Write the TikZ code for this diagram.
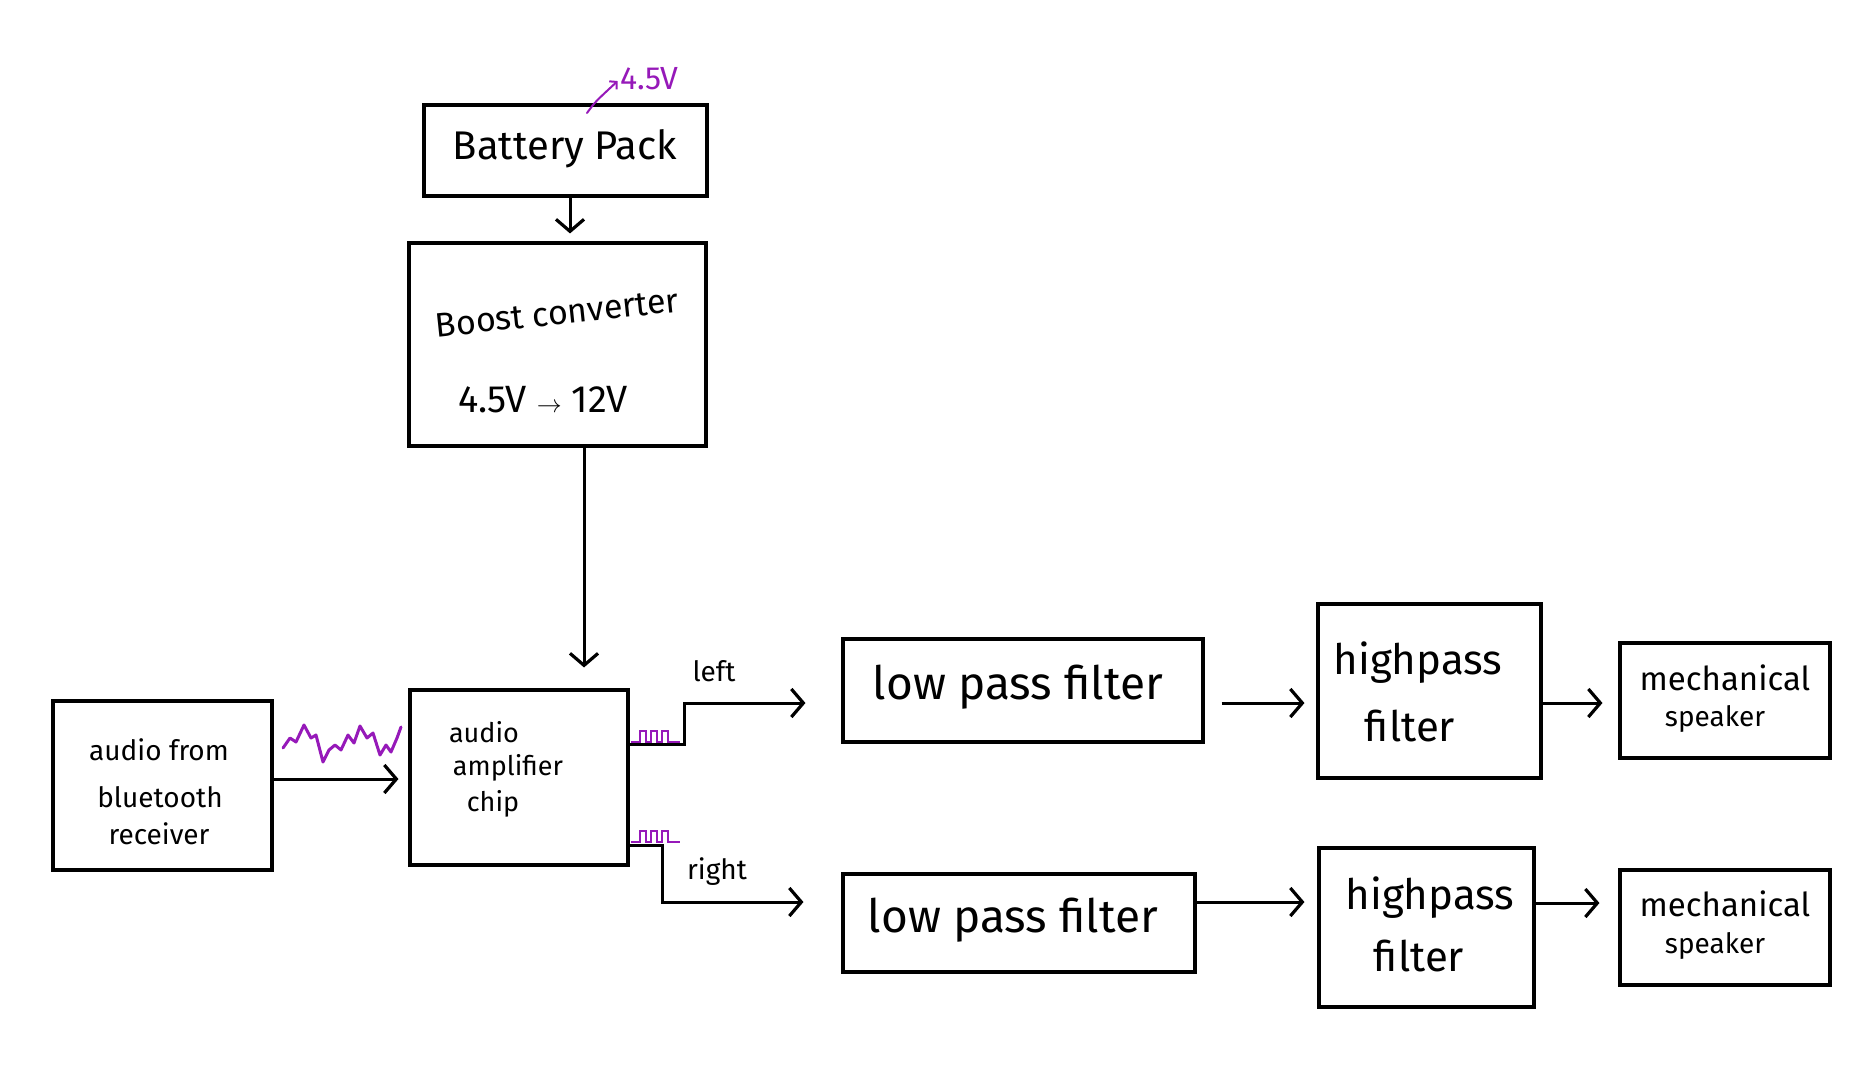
\documentclass[tikz,border=0pt]{standalone}
\usepackage{fontspec}
\setmainfont{Fira Sans}
\usetikzlibrary{arrows.meta}
\definecolor{wave}{RGB}{150,25,185}
\tikzset{
 blk/.style={draw, line width=3.1pt, inner sep=0pt},
 conn/.style={line width=3pt, -{Straight Barb[length=12pt,width=28pt,line width=3.2pt]}},
 sig/.style={draw=wave, line width=3pt, line join=round, line cap=round},
 pulse/.style={draw=wave, line width=2pt},
 lbl/.style={inner sep=0pt, anchor=center},
}
\newcommand{\fz}[1]{\fontsize{#1}{#1}\selectfont}
\begin{document}
\begin{tikzpicture}[x=1pt,y=-1pt]
\path[use as bounding box, fill=white] (0,0) rectangle (1873,1065);

% boxes
\node[blk, minimum width=283pt, minimum height=91pt]  (bat)   at (565.5,150.5) {};
\node[blk, minimum width=297pt, minimum height=203pt] (boost) at (557.5,344.5) {};
\node[blk, minimum width=219pt, minimum height=169pt] (recv)  at (162.5,785.5) {};
\node[blk, minimum width=218pt, minimum height=175pt] (amp)   at (519,777.5) {};
\node[blk, minimum width=360pt, minimum height=103pt] (lpf1)  at (1023,690.5) {};
\node[blk, minimum width=352pt, minimum height=98pt]  (lpf2)  at (1019,923) {};
\node[blk, minimum width=223pt, minimum height=174pt] (hpf1)  at (1429.5,691) {};
\node[blk, minimum width=215pt, minimum height=159pt] (hpf2)  at (1426.5,927.5) {};
\node[blk, minimum width=210pt, minimum height=115pt] (spk1)  at (1725,700.5) {};
\node[blk, minimum width=210pt, minimum height=115pt] (spk2)  at (1725,927.5) {};

% texts
\node[lbl] (tbat) at (565,149) {\fz{40}Battery Pack};
\node[lbl, rotate=6] (tboost) at (557,313) {\fz{34}Boost converter};
\node[lbl] (tvolt) at (543,400) {\fz{38}4.5V $\rightarrow$ 12V};
\node[lbl] (tr1) at (159,750) {\fz{28}audio from};
\node[lbl] (tr2) at (160,797) {\fz{28}bluetooth};
\node[lbl] (tr3) at (159,834) {\fz{28}receiver};
\node[lbl] (ta1) at (484,732) {\fz{27}audio};
\node[lbl] (ta2) at (508,768) {\fz{27}amplifier};
\node[lbl] (ta3) at (493,804) {\fz{27}chip};
\node[lbl] (tleft) at (714,671) {\fz{28}left};
\node[lbl] (tright) at (717,872) {\fz{28}right};
\node[lbl] (tl1) at (1018,687) {\fz{46}low pass filter};
\node[lbl] (tl2) at (1013,920) {\fz{46}low pass filter};
\node[lbl] (th1a) at (1418,663) {\fz{42}highpass};
\node[lbl] (th1b) at (1410,726) {\fz{42}filter};
\node[lbl] (th2a) at (1430,898) {\fz{42}highpass};
\node[lbl] (th2b) at (1419,956) {\fz{42}filter};
\node[lbl] (ts1a) at (1725,678) {\fz{33}mechanical};
\node[lbl] (ts1b) at (1715,719) {\fz{28}speaker};
\node[lbl] (ts2a) at (1725,904) {\fz{33}mechanical};
\node[lbl] (ts2b) at (1715,946) {\fz{28}speaker};
\node[lbl, text=wave] (tv) at (649,79) {\fz{32}4.5V};

% connectors
\draw[conn, shorten >=8pt] (bat.south -| 570,0) -- (boost.north -| 570,0);
\draw[conn, shorten >=21pt] (boost.south -| 584,0) -- (amp.north -| 584,0);
\draw[conn, shorten >=10pt] (recv.east |- 0,779) -- (amp.west |- 0,779);
\draw[conn, shorten >=36pt] (amp.east |- 0,744) -| (684,703) -- (lpf1.west |- 0,703);
\draw[conn, shorten >=38pt] (amp.east |- 0,845) -| (662,902) -- (lpf2.west |- 0,902);
\draw[conn, shorten <=17pt, shorten >=12pt] (lpf1.east |- 0,703) -- (hpf1.west |- 0,703);
\draw[conn, shorten >=13pt] (lpf2.east |- 0,902) -- (hpf2.west |- 0,902);
\draw[conn, shorten >=16pt] (hpf1.east |- 0,703) -- (spk1.west |- 0,703);
\draw[conn, shorten >=19pt] (hpf2.east |- 0,903) -- (spk2.west |- 0,903);

% purple annotations
\coordinate (va) at (587,113);
\draw[sig, line width=2pt, shorten >=3pt, -{Straight Barb[length=5pt,width=11pt,line width=2pt]}] (va) .. controls (595,102) .. (tv.west);
\draw[sig] (283,748) -- (290,738) -- (296,742) -- (304,725) -- (311,738) -- (316,735)
 -- (323,762) -- (329,750) -- (335,745) -- (341,750) -- (348,735) -- (354,743)
 -- (360,726) -- (367,738) -- (373,733) -- (380,755) -- (386,745) -- (391,752)
 -- (397,738) -- (401,727);
\draw[pulse] (631,742) -- (640,742) -- (640,731) -- (646,731) -- (646,742) -- (651,742)
 -- (651,731) -- (657,731) -- (657,742) -- (662,742) -- (662,731) -- (668,731)
 -- (668,742) -- (680,742);
\draw[pulse] (631,842) -- (640,842) -- (640,831) -- (646,831) -- (646,842) -- (651,842)
 -- (651,831) -- (657,831) -- (657,842) -- (662,842) -- (662,831) -- (668,831)
 -- (668,842) -- (680,842);
\end{tikzpicture}
\end{document}
